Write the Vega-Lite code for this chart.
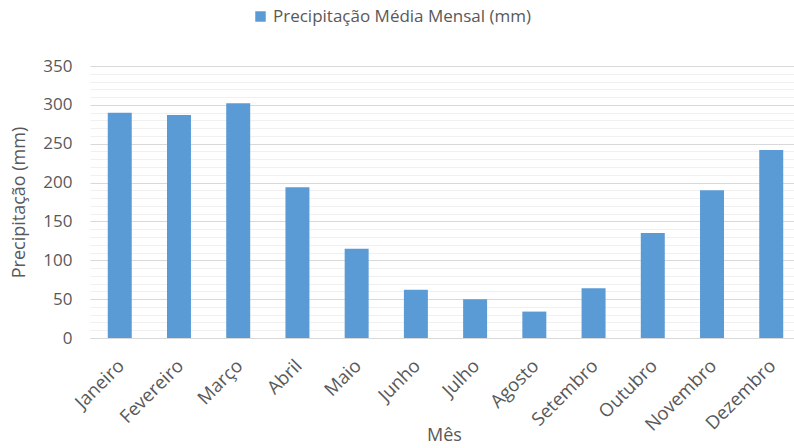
{
  "$schema": "https://vega.github.io/schema/vega-lite/v6.json",
  "width": 711,
  "height": 272,
  "autosize": {"type": "none"},
  "padding": {"left": 90, "top": 66, "right": 0, "bottom": 110},
  "background": "white",
  "config": {"view": {"stroke": null}, "font": "Open Sans"},
  "data": {
    "values": [
      {"mes": "Janeiro", "valor": 290},
      {"mes": "Fevereiro", "valor": 287},
      {"mes": "Março", "valor": 302},
      {"mes": "Abril", "valor": 194},
      {"mes": "Maio", "valor": 115},
      {"mes": "Junho", "valor": 62},
      {"mes": "Julho", "valor": 50},
      {"mes": "Agosto", "valor": 34},
      {"mes": "Setembro", "valor": 64},
      {"mes": "Outubro", "valor": 135},
      {"mes": "Novembro", "valor": 190},
      {"mes": "Dezembro", "valor": 242}
    ]
  },
  "mark": {"type": "bar", "color": "#5b9bd5"},
  "encoding": {
    "x": {
      "field": "mes",
      "type": "nominal",
      "sort": null,
      "scale": {"paddingInner": 0.595, "paddingOuter": 0.3},
      "axis": {
        "title": "Mês",
        "titleFontSize": 18,
        "titleFontWeight": "normal",
        "titleColor": "#595959",
        "titleX": 354,
        "titleY": 88,
        "titleBaseline": "top",
        "labelAngle": -45,
        "labelFontSize": 18.5,
        "labelColor": "#595959",
        "labelPadding": 18,
        "labelOffset": -5,
        "ticks": false,
        "domainColor": "#d9d9d9",
        "domainWidth": 1
      }
    },
    "y": {
      "field": "valor",
      "type": "quantitative",
      "scale": {"domain": [0, 350], "nice": false},
      "axis": {
        "title": "Precipitação (mm)",
        "titleFontSize": 18,
        "titleFontWeight": "normal",
        "titleColor": "#595959",
        "titlePadding": 14,
        "values": [0,10,20,30,40,50,60,70,80,90,100,110,120,130,140,150,160,170,180,190,200,210,220,230,240,250,260,270,280,290,300,310,320,330,340,350],
        "labelExpr": "datum.value % 50 === 0 ? datum.label : ''",
        "labelFontSize": 17,
        "labelColor": "#595959",
        "labelPadding": 18,
        "ticks": false,
        "domain": false,
        "gridColor": {"condition": {"test": "datum.value % 50 === 0", "value": "#d9d9d9"}, "value": "#f0f0f0"},
        "gridWidth": 1
      }
    },
    "fill": {
      "datum": "Precipitação Média Mensal (mm)",
      "type": "nominal",
      "scale": {"range": ["#5b9bd5"]},
      "legend": {
        "title": null,
        "orient": "none",
        "legendX": 162,
        "legendY": -58,
        "symbolType": "square",
        "symbolSize": 110,
        "labelFontSize": 17,
        "labelLimit": 0,
        "labelColor": "#595959",
        "symbolStrokeWidth": 0
      }
    }
  }
}
